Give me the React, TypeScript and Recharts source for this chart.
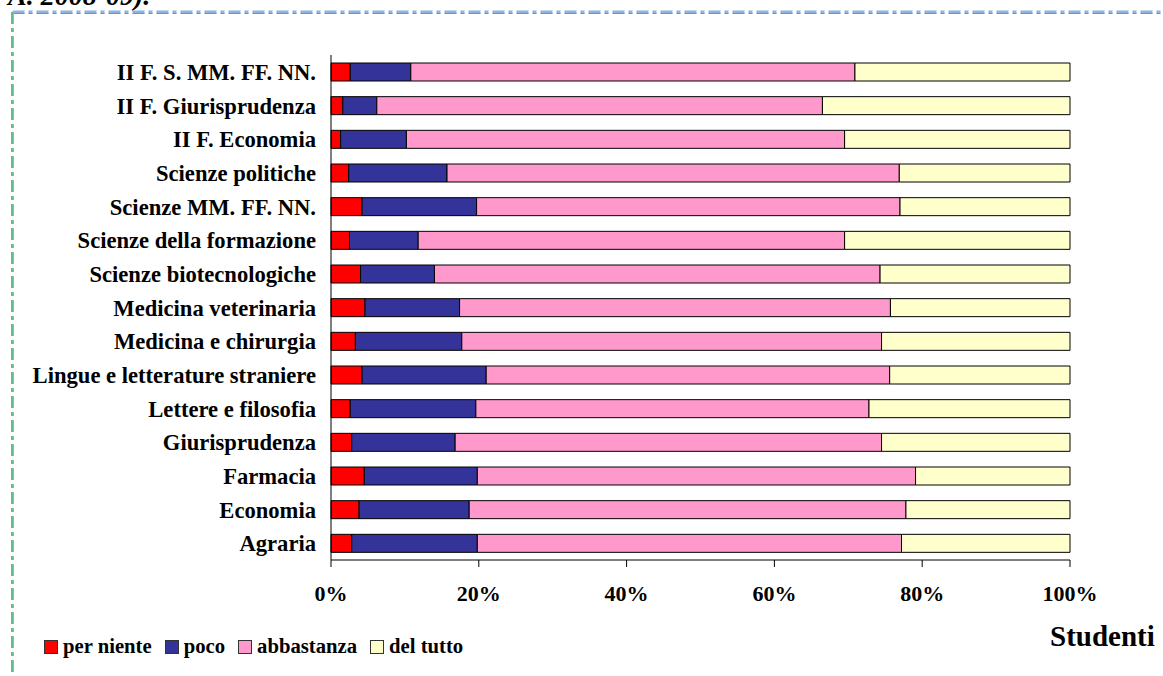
import React from 'react';
import { BarChart, Bar, XAxis, YAxis, Legend } from 'recharts';

const categories = [
  'II F. S. MM. FF. NN.',
  'II F. Giurisprudenza',
  'II F. Economia',
  'Scienze politiche',
  'Scienze MM. FF. NN.',
  'Scienze della formazione',
  'Scienze biotecnologiche',
  'Medicina veterinaria',
  'Medicina e chirurgia',
  'Lingue e letterature straniere',
  'Lettere e filosofia',
  'Giurisprudenza',
  'Farmacia',
  'Economia',
  'Agraria',
];

const perNiente = [2.6, 1.6, 1.3, 2.4, 4.2, 2.5, 4.0, 4.6, 3.3, 4.2, 2.6, 2.8, 4.5, 3.8, 2.8];
const poco = [8.2, 4.6, 8.9, 13.3, 15.5, 9.3, 10.0, 12.8, 14.4, 16.8, 17.0, 14.0, 15.3, 14.9, 17.0];
const abbastanza = [60.1, 60.3, 59.3, 61.2, 57.3, 57.7, 60.3, 58.3, 56.8, 54.6, 53.2, 57.7, 59.3, 59.1, 57.4];
const delTutto = [29.1, 33.5, 30.5, 23.1, 23.0, 30.5, 25.7, 24.3, 25.5, 24.4, 27.2, 25.5, 20.9, 22.2, 22.8];

const xTicks = [0, 0.2, 0.4, 0.6, 0.8, 1];

const seriesNames = ['per niente', 'poco', 'abbastanza', 'del tutto'];
const seriesKeys = ['perNiente', 'poco', 'abbastanza', 'delTutto'];
const seriesColors = ['#FF0000', '#333399', '#FF99CC', '#FFFFCC'];

const data = categories.map((name, i) => ({
  name,
  perNiente: perNiente[i],
  poco: poco[i],
  abbastanza: abbastanza[i],
  delTutto: delTutto[i],
}));

const FONT = '"Liberation Serif", "Times New Roman", serif';

const LegendContent = () => (
  <div style={{ display: 'flex', alignItems: 'center', fontFamily: FONT, fontWeight: 'bold', fontSize: 20.7, color: '#000', whiteSpace: 'nowrap' }}>
    {seriesNames.map((n, i) => (
      <div key={n} style={{ display: 'flex', alignItems: 'center', marginRight: 13 }}>
        <span style={{ display: 'inline-block', width: 12, height: 12, background: seriesColors[i], border: '1px solid #333', marginRight: 5 }} />
        <span>{n}</span>
      </div>
    ))}
  </div>
);

export default function App() {
  return (
    <div style={{ position: 'absolute', left: 0, top: 0, width: 1163, height: 676, overflow: 'hidden', background: '#fff' }}>
      <div style={{ position: 'absolute', left: 8, top: -18, fontFamily: FONT, fontWeight: 'bold', fontStyle: 'italic', fontSize: 28, lineHeight: '28px', color: '#000', whiteSpace: 'nowrap' }}>
        A. 2008-09).
      </div>
      <svg width={1163} height={676} style={{ position: 'absolute', left: 0, top: 0, pointerEvents: 'none' }}>
        <line x1={12.5} y1={12} x2={1163} y2={12} stroke="#8DB3E2" strokeWidth={3} strokeDasharray="12 4 4 4" />
        <line x1={12.5} y1={13.5} x2={1163} y2={13.5} stroke="#33CC33" strokeWidth={1} strokeDasharray="12 4 4 4" />
        <line x1={12.5} y1={12} x2={12.5} y2={676} stroke="#8DB3E2" strokeWidth={3} strokeDasharray="12 4 4 4" />
        <line x1={12} y1={12} x2={12} y2={676} stroke="#33CC33" strokeWidth={1} strokeDasharray="12 4 4 4" />
      </svg>
      <div style={{ position: 'absolute', left: 1050, top: 620, fontFamily: FONT, fontWeight: 'bold', fontSize: 29, color: '#000', whiteSpace: 'nowrap' }}>
        Studenti
      </div>
      <div style={{ position: 'absolute', left: 0, top: 0 }}>
        <BarChart
          width={1163}
          height={676}
          data={data}
          layout="vertical"
          stackOffset="expand"
          barSize={18}
          margin={{ top: 55, right: 93, bottom: 76, left: 0 }}
        >
          <XAxis
            type="number"
            domain={[0, 1]}
            ticks={xTicks}
            tickFormatter={(v: number) => `${Math.round(v * 100)}%`}
            axisLine={{ stroke: '#000' }}
            tickLine={{ stroke: '#000' }}
            tickSize={7}
            tickMargin={18}
            height={40}
            interval={0}
            tick={{ fill: '#000', fontFamily: FONT, fontWeight: 'bold', fontSize: 22 }}
          />
          <YAxis
            type="category"
            dataKey="name"
            width={331}
            axisLine={{ stroke: '#000' }}
            tickLine={false}
            tickSize={0}
            tickMargin={15}
            interval={0}
            tick={{ fill: '#000', fontFamily: FONT, fontWeight: 'bold', fontSize: 22.6 }}
          />
          <Legend
            layout="vertical"
            align="center"
            verticalAlign="middle"
            content={<LegendContent />}
            wrapperStyle={{ left: 44, top: 635, width: 'auto', height: 'auto' }}
          />
          {seriesKeys.map((k, i) => (
            <Bar
              key={k}
              dataKey={k}
              name={seriesNames[i]}
              stackId="a"
              fill={seriesColors[i]}
              stroke="#000"
              strokeWidth={1}
              isAnimationActive={false}
            />
          ))}
        </BarChart>
      </div>
    </div>
  );
}
